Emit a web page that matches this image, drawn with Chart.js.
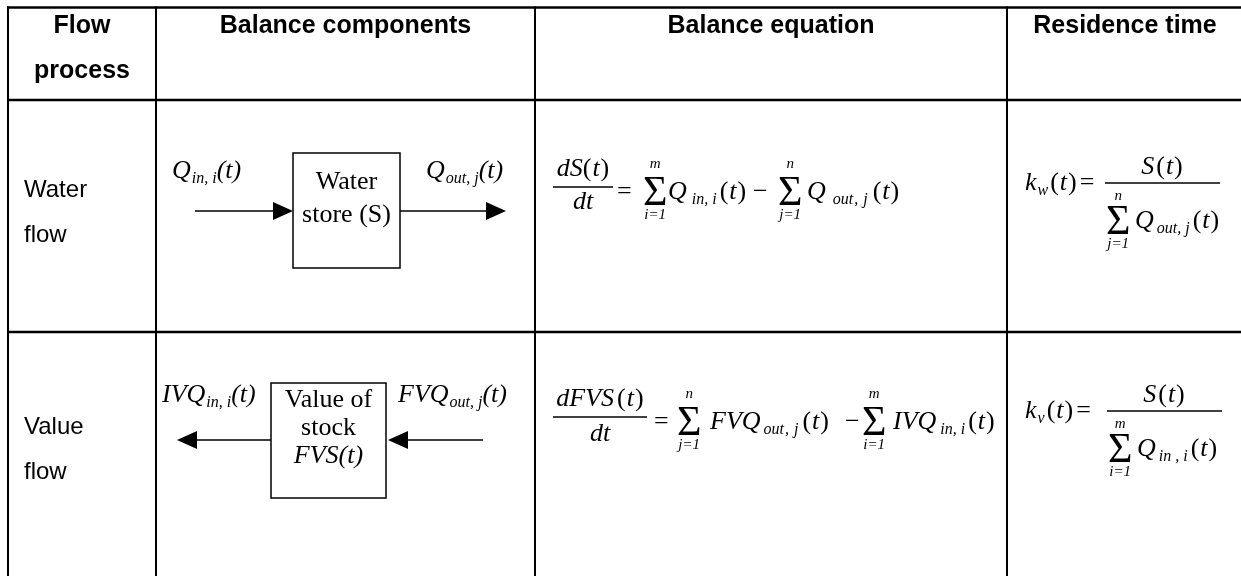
<!DOCTYPE html>
<html lang="en">

<head>
    <meta charset="UTF-8">
    <title>Flow process balance table</title>
    <script src="https://cdn.jsdelivr.net/npm/chart.js"></script>
    <style>
        body {
            margin: 0;
            background: #fff;
        }
    </style>
</head>

<body>
    <canvas id="tableChart" width="1241" height="576"></canvas>

    <script>
        // Table texts
        const columnHeaders = [['Flow', 'process'], ['Balance components'], ['Balance equation'], ['Residence time']];
        const rowLabels = [['Water', 'flow'], ['Value', 'flow']];
        const storeLabels = [['Water', 'store (S)'], ['Value of', 'stock', 'FVS(t)']];
        const inflowLabels = [['Q', 'in, i'], ['IVQ', 'in, i']];
        const outflowLabels = [['Q', 'out, j'], ['FVQ', 'out, j']];
        const balanceNumerators = ['dS', 'dFVS'];
        const stockSymbols = ['S', 'S'];
        const residenceSubscripts = ['w', 'v'];

        // Table geometry (pixels)
        const W = 1241, H = 576;
        const colEdges = [8, 156, 535, 1007, 1243];
        const rowEdges = [7.5, 100, 332, 579];

        const FONT_SANS = '"Liberation Sans", Arial, sans-serif';
        const FONT_SERIF = '"Liberation Serif", "Times New Roman", serif';
        const styles = {
            i: { font: 'italic 26px ' + FONT_SERIF, dy: 0 },
            r: { font: '26px ' + FONT_SERIF, dy: 0 },
            s: { font: 'italic 16px ' + FONT_SERIF, dy: 5 },
            l: { font: 'italic 15px ' + FONT_SERIF, dy: 0 }
        };

        // "(t)" with an extra gap before the opening bracket
        function argT(gap) {
            return [['(', 'r', gap || 0], ['t', 'i', 1], [')', 'r', 1]];
        }

        // subscript split into pieces so it can be spread like the equation editor does
        function spreadSub(sub, gap) {
            const parts = sub.split(',');
            return [[parts[0], 's', gap], [',', 's', 1], [parts[1].trim(), 's', 5]];
        }

        const tablePlugin = {
            id: 'tablePlugin',
            afterDraw(chart) {
                const ctx = chart.ctx;
                const sx = chart.scales.x, sy = chart.scales.y;
                const px = v => sx.getPixelForValue(v);
                const py = v => sy.getPixelForValue(v);

                function line(x1, y1, x2, y2, w) {
                    ctx.beginPath();
                    ctx.lineWidth = w;
                    ctx.moveTo(px(x1), py(y1));
                    ctx.lineTo(px(x2), py(y2));
                    ctx.stroke();
                }

                // tokens: [text, style, extra gap before]; returns end x
                function run(x, y, tokens, align) {
                    let width = 0;
                    tokens.forEach(t => {
                        ctx.font = styles[t[1]].font;
                        width += (t[2] || 0) + ctx.measureText(t[0]).width;
                    });
                    let cx = align === 'center' ? x - width / 2 : x;
                    ctx.textAlign = 'left';
                    ctx.textBaseline = 'alphabetic';
                    tokens.forEach(t => {
                        const st = styles[t[1]];
                        ctx.font = st.font;
                        cx += t[2] || 0;
                        ctx.fillText(t[0], px(cx), py(y + st.dy));
                        cx += ctx.measureText(t[0]).width;
                    });
                    return cx;
                }

                function text(x, y, str, font, align) {
                    ctx.font = font;
                    ctx.textAlign = align || 'left';
                    ctx.textBaseline = 'alphabetic';
                    ctx.fillText(str, px(x), py(y));
                }

                function sum(x, base, upper, lower, upOff) {
                    const f = '42px ' + FONT_SERIF;
                    ctx.font = f;
                    const w = ctx.measureText('\u03A3').width;
                    text(x, base + 6, '\u03A3', f);
                    text(x + w / 2, base - (upOff || 31), upper, styles.l.font, 'center');
                    run(x + w / 2, base + 20, [[lower, 'l'], ['=1', 'l']], 'center');
                }

                function arrow(x1, x2, y) {
                    const dir = x2 > x1 ? 1 : -1;
                    line(x1, y, x2 - dir * 18, y, 1.6);
                    ctx.beginPath();
                    ctx.moveTo(px(x2), py(y));
                    ctx.lineTo(px(x2 - dir * 20), py(y - 9));
                    ctx.lineTo(px(x2 - dir * 20), py(y + 9));
                    ctx.closePath();
                    ctx.fill();
                }

                ctx.save();
                ctx.fillStyle = '#000';
                ctx.strokeStyle = '#000';

                // grid
                colEdges.forEach(x => line(x, rowEdges[0] - 1, x, rowEdges[rowEdges.length - 1], 2));
                rowEdges.forEach(y => line(colEdges[0] - 1, y, colEdges[colEdges.length - 1], y, 2.4));

                // header row
                columnHeaders.forEach((lines, c) => {
                    const cx = (colEdges[c] + colEdges[c + 1]) / 2;
                    lines.forEach((s, k) => text(cx, 33 + k * 45, s, 'bold 25px ' + FONT_SANS, 'center'));
                });

                // first column
                const rowTextTop = [197, 434];
                rowLabels.forEach((lines, r) => {
                    lines.forEach((s, k) => text(24, rowTextTop[r] + k * 45, s, '24px ' + FONT_SANS));
                });

                // balance components: stores and arrows
                ctx.lineWidth = 1.5;
                ctx.strokeRect(px(293), py(153), 107, 115);
                ctx.strokeRect(px(271), py(383), 115, 115);
                text(346.5, 189, storeLabels[0][0], styles.r.font, 'center');
                text(346.5, 222, storeLabels[0][1], styles.r.font, 'center');
                text(328.5, 407, storeLabels[1][0], styles.r.font, 'center');
                text(328.5, 435, storeLabels[1][1], styles.r.font, 'center');
                run(328.5, 463, [['FVS(t)', 'i']], 'center');

                arrow(195, 293, 211);
                arrow(400, 506, 211);
                arrow(271, 177, 440);
                arrow(483, 388, 440);

                run(172, 178, [[inflowLabels[0][0], 'i'], [inflowLabels[0][1], 's', 1], ['(t)', 'i']]);
                run(426, 178, [[outflowLabels[0][0], 'i'], [outflowLabels[0][1], 's', 1], ['(t)', 'i']]);
                run(162, 402, [[inflowLabels[1][0], 'i'], [inflowLabels[1][1], 's', 1], ['(t)', 'i']]);
                run(398, 402, [[outflowLabels[1][0], 'i'], [outflowLabels[1][1], 's', 1], ['(t)', 'i']]);

                // balance equation, water
                let B = 199;
                run(583, B - 23, [[balanceNumerators[0], 'i'], ...argT()], 'center');
                line(553, B - 12, 613, B - 12, 1.4);
                run(583, B + 10, [['dt', 'i']], 'center');
                text(617, B, '=', styles.r.font);
                sum(643, B, 'm', 'i');
                run(668, B, [[inflowLabels[0][0], 'i'], [inflowLabels[0][1], 's', 5], ...argT(3)]);
                text(753, B, '\u2212', styles.r.font);
                sum(778, B, 'n', 'j');
                run(807, B, [[outflowLabels[0][0], 'i'], ...spreadSub(outflowLabels[0][1], 7), ...argT(5)]);

                // balance equation, value
                B = 429;
                run(600, B - 23, [[balanceNumerators[1], 'i'], ...argT(3)], 'center');
                line(553, B - 12, 647, B - 12, 1.4);
                run(600, B + 12, [['dt', 'i']], 'center');
                text(654, B, '=', styles.r.font);
                sum(677, B, 'n', 'j');
                run(710, B, [[outflowLabels[1][0], 'i'], ...spreadSub(outflowLabels[1][1], 3), ...argT(4)]);
                text(845, B, '\u2212', styles.r.font);
                sum(862, B, 'm', 'i');
                run(893, B, [[inflowLabels[1][0], 'i'], [inflowLabels[1][1], 's', 4], ...argT(3)]);

                // residence time
                const resBase = [190, 418];
                const resBar = [1105, 1107];
                const resUpper = ['n', 'm'];
                const resLower = ['j', 'i'];
                const resSub = [outflowLabels[0][1], 'in , i'];
                resBase.forEach((b, r) => {
                    const end = run(1025, b, [['k', 'i'], [residenceSubscripts[r], 's', 1], ...argT(2)]);
                    text(end + 3, b, '=', styles.r.font);
                    const bar = b - 7;
                    line(resBar[r], bar, resBar[r] + 115, bar, 1.4);
                    run(resBar[r] + 57, bar - 9, [[stockSymbols[r], 'i'], ...argT(2)], 'center');
                    const db = bar + 45;
                    sum(resBar[r] + 1, db, resUpper[r], resLower[r], 28);
                    run(resBar[r] + 30, db, [['Q', 'i'], [resSub[r], 's', 3], ...argT(3)]);
                });

                ctx.restore();
            }
        };

        new Chart(document.getElementById('tableChart'), {
            type: 'scatter',
            data: { datasets: [] },
            options: {
                responsive: false,
                animation: false,
                events: [],
                layout: { padding: 0 },
                plugins: {
                    legend: { display: false },
                    tooltip: { enabled: false }
                },
                scales: {
                    x: { type: 'linear', min: 0, max: W, display: false },
                    y: { type: 'linear', min: 0, max: H, reverse: true, display: false }
                }
            },
            plugins: [tablePlugin]
        });
    </script>
</body>

</html>
